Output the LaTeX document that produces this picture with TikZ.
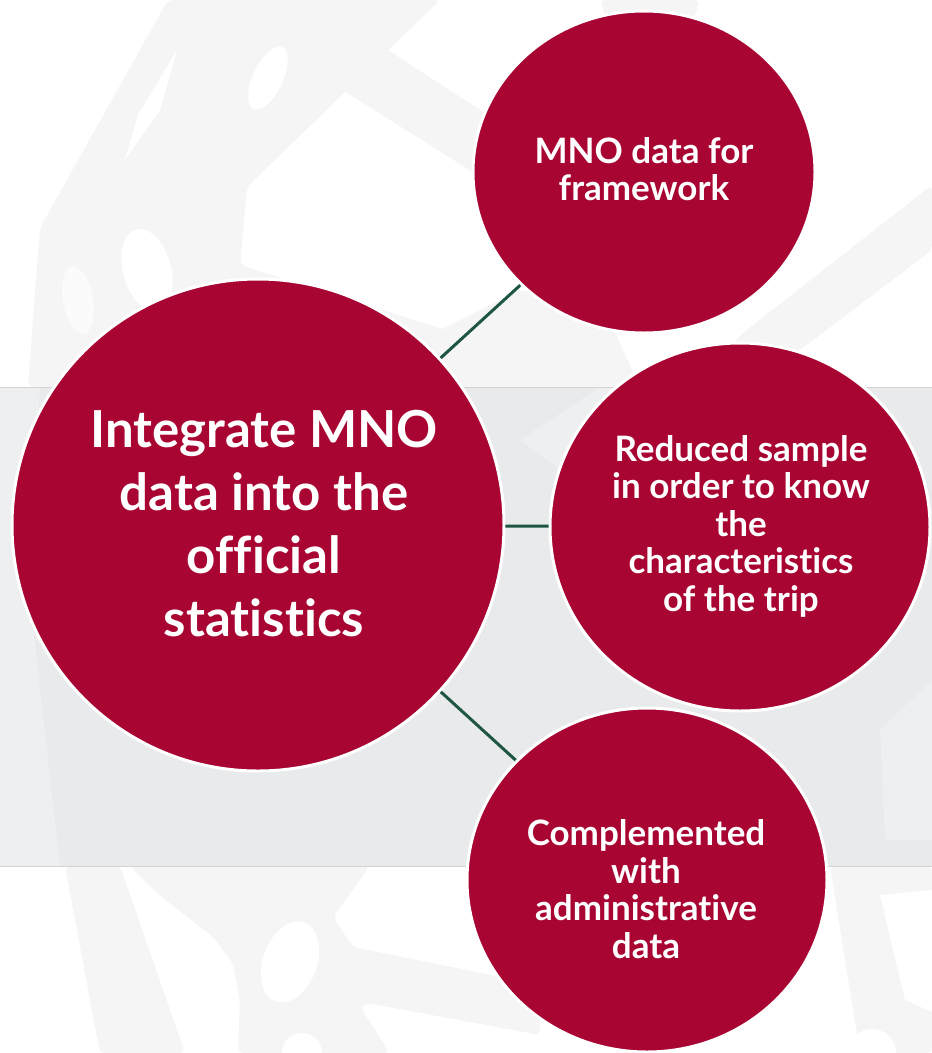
\documentclass[tikz,border=0pt]{standalone}
\usepackage{fontspec}
\setmainfont{Lato}[Ligatures={NoCommon}]
\usetikzlibrary{shapes.geometric}
\definecolor{wine}{HTML}{A80532}
\definecolor{linkgreen}{HTML}{1F5641}
\definecolor{bandgrey}{HTML}{E9EAEC}
\definecolor{bandline}{HTML}{D2D3D5}
\definecolor{faint}{HTML}{F5F5F6}
\definecolor{bandlight}{HTML}{EEEFF1}
\tikzset{
  bubble/.style={ellipse, fill=wine, draw=white, line width=3pt, inner sep=0pt},
  link/.style={draw=linkgreen, line width=3pt},
  biglbl/.style={text=white, align=center, inner sep=0pt, font=\fontsize{51}{63}\selectfont\bfseries},
  lbl/.style={text=white, align=center, inner sep=0pt, font=\fontsize{35}{37.5}\selectfont\bfseries},
  shade/.style={fill=faint, draw=none, rounded corners=6pt},
  hole/.style={fill=white, draw=none},
}
\begin{document}
\begin{tikzpicture}[x=1pt, y=-1pt]
\useasboundingbox (0,0) rectangle (932,1053);
\fill[white] (0,0) rectangle (932,1053);
% faint background shapes (top)
\path[shade] (168,0) -- (440,0) -- (247,187) -- (240,265) -- (452,332) -- (470,387) -- (28,387) -- (40,228) -- cycle;
\path[shade] (310,0) -- (620,200) -- (620,265) -- (330,82) -- cycle;
\path[shade] (440,330) -- (520,290) -- (600,300) -- (640,387) -- (440,387) -- cycle;
\path[shade] (932,185) -- (932,250) -- (800,350) -- (720,387) -- (690,387) -- (743,333) -- cycle;
\path[shade] (600,0) -- (700,0) -- (690,30) -- (610,30) -- cycle;
\path[hole] (268,78) ellipse [x radius=15, y radius=34, rotate=-25];
\path[hole] (177,50) -- (160,110) -- (125,160) -- (138,115) -- cycle;
\path[hole] (147,270) ellipse [x radius=24, y radius=42, rotate=15];
\path[hole, fill=white!60!faint] (78,300) ellipse [x radius=15, y radius=34, rotate=10];
% faint background shapes (bottom)
\path[shade] (65,866) -- (120,866) -- (185,1053) -- (100,1053) -- cycle;
\path[shade] (130,866) -- (157,893) -- (213,937) -- (233,963) -- (240,1000) -- (238,1053) -- (390,1053) -- (360,1007) -- (367,1003) -- (540,1035) -- (540,985) -- (353,947) -- (333,917) -- (370,866) -- cycle;
\path[hole] (290,962) ellipse [x radius=27, y radius=42, rotate=-20];
\path[hole] (302,1053) circle [radius=20];
\path[shade] (830,866) -- (932,866) -- (932,1053) -- (860,1053) -- cycle;
\path[hole] (880,895) -- (932,890) -- (932,1012) -- (905,1000) -- cycle;
\path[hole] (872,1053) circle [radius=24];
% grey band
\fill[bandgrey] (0,387) rectangle (932,866);
\path[fill=bandlight] (0,387) -- (40,387) -- (30,600) -- (60,866) -- (0,866) -- cycle;
\path[fill=bandlight] (880,730) -- (932,680) -- (932,840) -- (885,840) -- cycle;
\path[fill=bandlight] (600,387) -- (700,387) -- (560,470) -- (520,440) -- cycle;
\draw[bandline, line width=1pt] (0,387) -- (932,387);
\draw[bandline, line width=1pt] (0,866) -- (932,866);
% circles
\node[bubble, minimum width=492pt, minimum height=492pt] (c0) at (258,525) {};
\node[bubble, minimum width=342pt, minimum height=322pt] (c1) at (644,172) {};
\node[bubble, minimum width=380pt, minimum height=368pt] (c2) at (740,527) {};
\node[bubble, minimum width=360pt, minimum height=344pt] (c3) at (647,880) {};
% connectors
\draw[link] (c0) -- (c1);
\draw[link] (c0) -- (c2);
\draw[link] (c0) -- (c3);
% labels
\node[biglbl] (t0) at (264,524) {Integrate MNO\\data into the\\official\\statistics};
\node[lbl] (t1) at (644,169) {MNO data for\\framework};
\node[lbl] (t2) at (741,526) {Reduced sample\\in order to know\\the\\characteristics\\of the trip};
\node[lbl] (t3) at (646,889) {Complemented\\with\\administrative\\data};
\end{tikzpicture}
\end{document}
